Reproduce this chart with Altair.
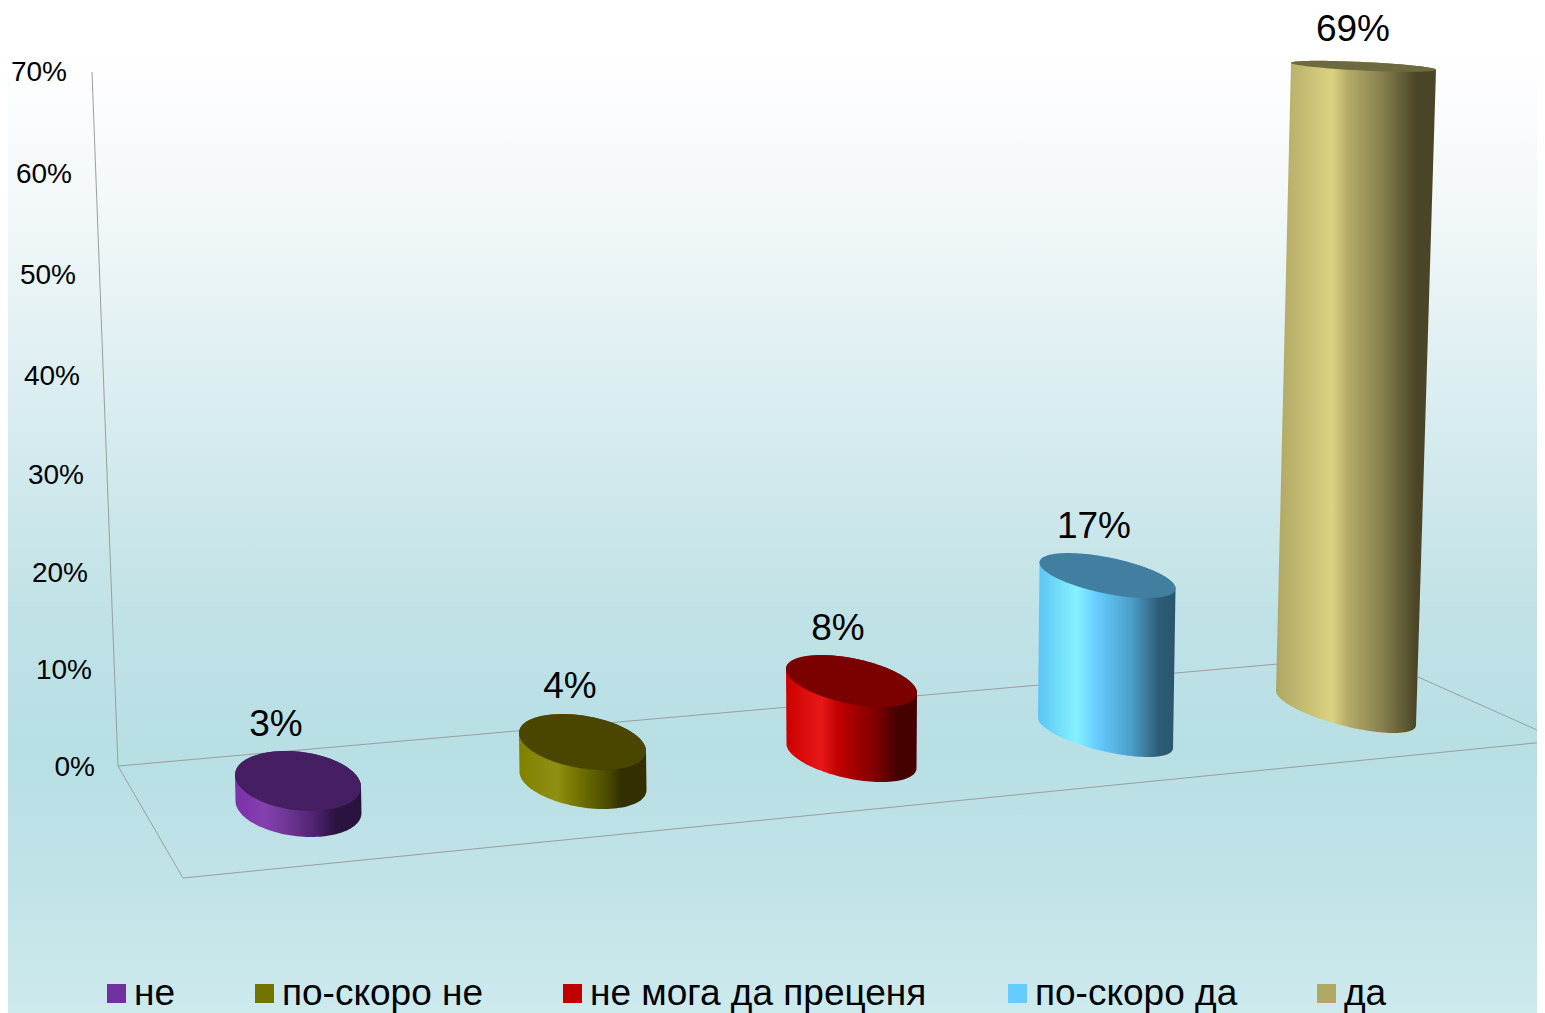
import numpy as np
import pandas as pd
import altair as alt

# ---- chart values ----
categories = ["не", "по-скоро не", "не мога да преценя", "по-скоро да", "да"]
values = [3, 4, 8, 17, 69]
value_labels = ["3%", "4%", "8%", "17%", "69%"]
axis_labels = ["0%", "10%", "20%", "30%", "40%", "50%", "60%", "70%"]
legend_colors = ["#7030A0", "#737300", "#C00000", "#66CCFF", "#B2A866"]
top_colors = ["#451F61", "#4A4600", "#7B0000", "#417E9F", "#6E6A40"]

# ---- layout of the pseudo-3D scene, in page pixels ----
W, H = 1537, 1013
base_cx = [298.5, 583, 851.5, 1105.5, 1346]
base_cy = [807, 781, 756, 733, 708]
top_cx = [298, 582.5, 851.5, 1107.5, 1363.5]
px_per_pct = [8.67, 9.75, 9.37, 9.26, 9.30]
top_sx = [63, 63.5, 65.5, 68, 72.5]
top_sy = [30, 28, 26, 22.5, 5.5]
top_k = [6, 9, 12, 13, 3.5]
base_sx = [63, 63.5, 65, 67.5, 70]
base_sy = [30, 28, 26, 24, 25]
base_k = [6, 9, 12, 15, 17]
gradients = [
    [(0, "#7B30A8"), (.23, "#8640B0"), (.41, "#6F3695"), (.63, "#4F2270"), (.8, "#2B1340"), (1, "#2A1240")],
    [(0, "#808000"), (.3, "#8F8F14"), (.42, "#7A7A00"), (.7, "#4A4A00"), (.8, "#333000"), (1, "#332F00")],
    [(0, "#CC0000"), (.27, "#E81818"), (.4, "#C00000"), (.7, "#7A0000"), (.85, "#450000"), (1, "#450000")],
    [(0, "#5CC4F5"), (.28, "#85F2FF"), (.43, "#66CCFF"), (.68, "#4A9EC8"), (.88, "#2E5C75"), (1, "#2A5570")],
    [(0, "#AFA663"), (.35, "#DCD283"), (.45, "#B4AB68"), (.65, "#8A8350"), (.88, "#4A4526"), (1, "#4A4526")],
]
label_x = [276, 570, 838, 1094, 1353]
label_y = [725, 687, 629, 527, 30]
tick_right = [95, 92, 88, 84, 80, 76, 72, 67]
tick_y = [768, 671, 574, 476, 377, 276, 175, 73]
frame_lines = [
    ((92, 72), (118, 766)),
    ((118, 766), (1278, 664)),
    ((118, 766), (183, 878)),
    ((183, 878), (1545, 742)),
    ((1418, 677), (1545, 733.5)),
]
swatch_x = [107, 255, 563, 1008, 1317]
legend_text_x = [134, 282, 590, 1035, 1344]

X = alt.X("x:Q", axis=None, scale=alt.Scale(domain=[8, W], nice=False, zero=False))
Y = alt.Y("y:Q", axis=None, scale=alt.Scale(domain=[H, 8], nice=False, zero=False))
FONT = "Liberation Sans"


def arc(cx, cy, sx, sy, k, t0, t1, n=60):
    t = np.linspace(t0, t1, n)
    minor = np.sqrt(max(sy ** 2 - k ** 2, 1))
    return cx + sx * np.cos(t), cy + k * np.cos(t) + minor * np.sin(t)


def polygon(xs, ys, fill):
    df = pd.DataFrame({"x": xs, "y": ys, "i": range(len(xs))})
    return alt.Chart(df).mark_line(
        interpolate="linear-closed", fill=fill, strokeWidth=0, clip=False
    ).encode(x=X, y=Y, order=alt.Order("i:Q"))


layers = [
    alt.Chart(pd.DataFrame({"a": [0]})).mark_rect(
        color=alt.LinearGradient(
            gradient="linear", x1=0, y1=0, x2=0, y2=1,
            stops=[
                alt.GradientStop(offset=o, color=c)
                for o, c in [(0, "#FFFFFF"), (.03, "#FFFFFF"), (.1, "#FBFCFD"), (.19, "#F3F8F9"),
                             (.39, "#DAEDF0"), (.6, "#C0E2E6"), (.74, "#B7DFE4"), (.87, "#C0E3E7"), (1, "#CDEAED")]
            ],
        )
    ).encode(x=alt.value(0), x2=alt.value(W - 8), y=alt.value(0), y2=alt.value(H - 8))
]

for a, b in frame_lines:
    df = pd.DataFrame({"x": [a[0], b[0]], "y": [a[1], b[1]]})
    layers.append(alt.Chart(df).mark_line(color="#979FA1", strokeWidth=1, clip=True).encode(x=X, y=Y))

for i, v in enumerate(values):
    tcy = base_cy[i] - v * px_per_pct[i]
    x1, y1 = arc(top_cx[i], tcy, top_sx[i], top_sy[i], top_k[i], np.pi, 2 * np.pi)
    x2, y2 = arc(base_cx[i], base_cy[i], base_sx[i], base_sy[i], base_k[i], 0, np.pi)
    grad = alt.LinearGradient(
        gradient="linear", x1=0, y1=0, x2=1, y2=0,
        stops=[alt.GradientStop(offset=o, color=c) for o, c in gradients[i]],
    )
    layers.append(polygon(np.r_[x1, x2], np.r_[y1, y2], grad))
    tx, ty = arc(top_cx[i], tcy, top_sx[i], top_sy[i], top_k[i], 0, 2 * np.pi, 120)
    layers.append(polygon(tx, ty, top_colors[i]))

layers.append(
    alt.Chart(pd.DataFrame({"x": label_x, "y": label_y, "t": value_labels}))
    .mark_text(font=FONT, fontSize=37, color="#000000", align="center", baseline="middle")
    .encode(x=X, y=Y, text="t:N")
)
layers.append(
    alt.Chart(pd.DataFrame({"x": tick_right, "y": tick_y, "t": axis_labels}))
    .mark_text(font=FONT, fontSize=28, color="#000000", align="right", baseline="middle")
    .encode(x=X, y=Y, text="t:N")
)
layers.append(
    alt.Chart(pd.DataFrame({"x": swatch_x, "x2": [s + 19 for s in swatch_x], "y": [984] * 5, "y2": [1003] * 5,
                            "c": legend_colors}))
    .mark_rect()
    .encode(x=X, x2="x2:Q", y=Y, y2="y2:Q", color=alt.Color("c:N", scale=None))
)
layers.append(
    alt.Chart(pd.DataFrame({"x": legend_text_x, "y": [1005] * 5, "t": categories}))
    .mark_text(font=FONT, fontSize=37, color="#000000", align="left", baseline="alphabetic")
    .encode(x=X, y=Y, text="t:N")
)

chart = (
    alt.layer(*layers)
    .properties(width=W - 8, height=H - 8, padding=0, autosize=alt.AutoSizeParams(type="none"))
    .configure_view(stroke=None)
)
chart.save("out.html", embed_options={"renderer": "svg", "actions": False})
